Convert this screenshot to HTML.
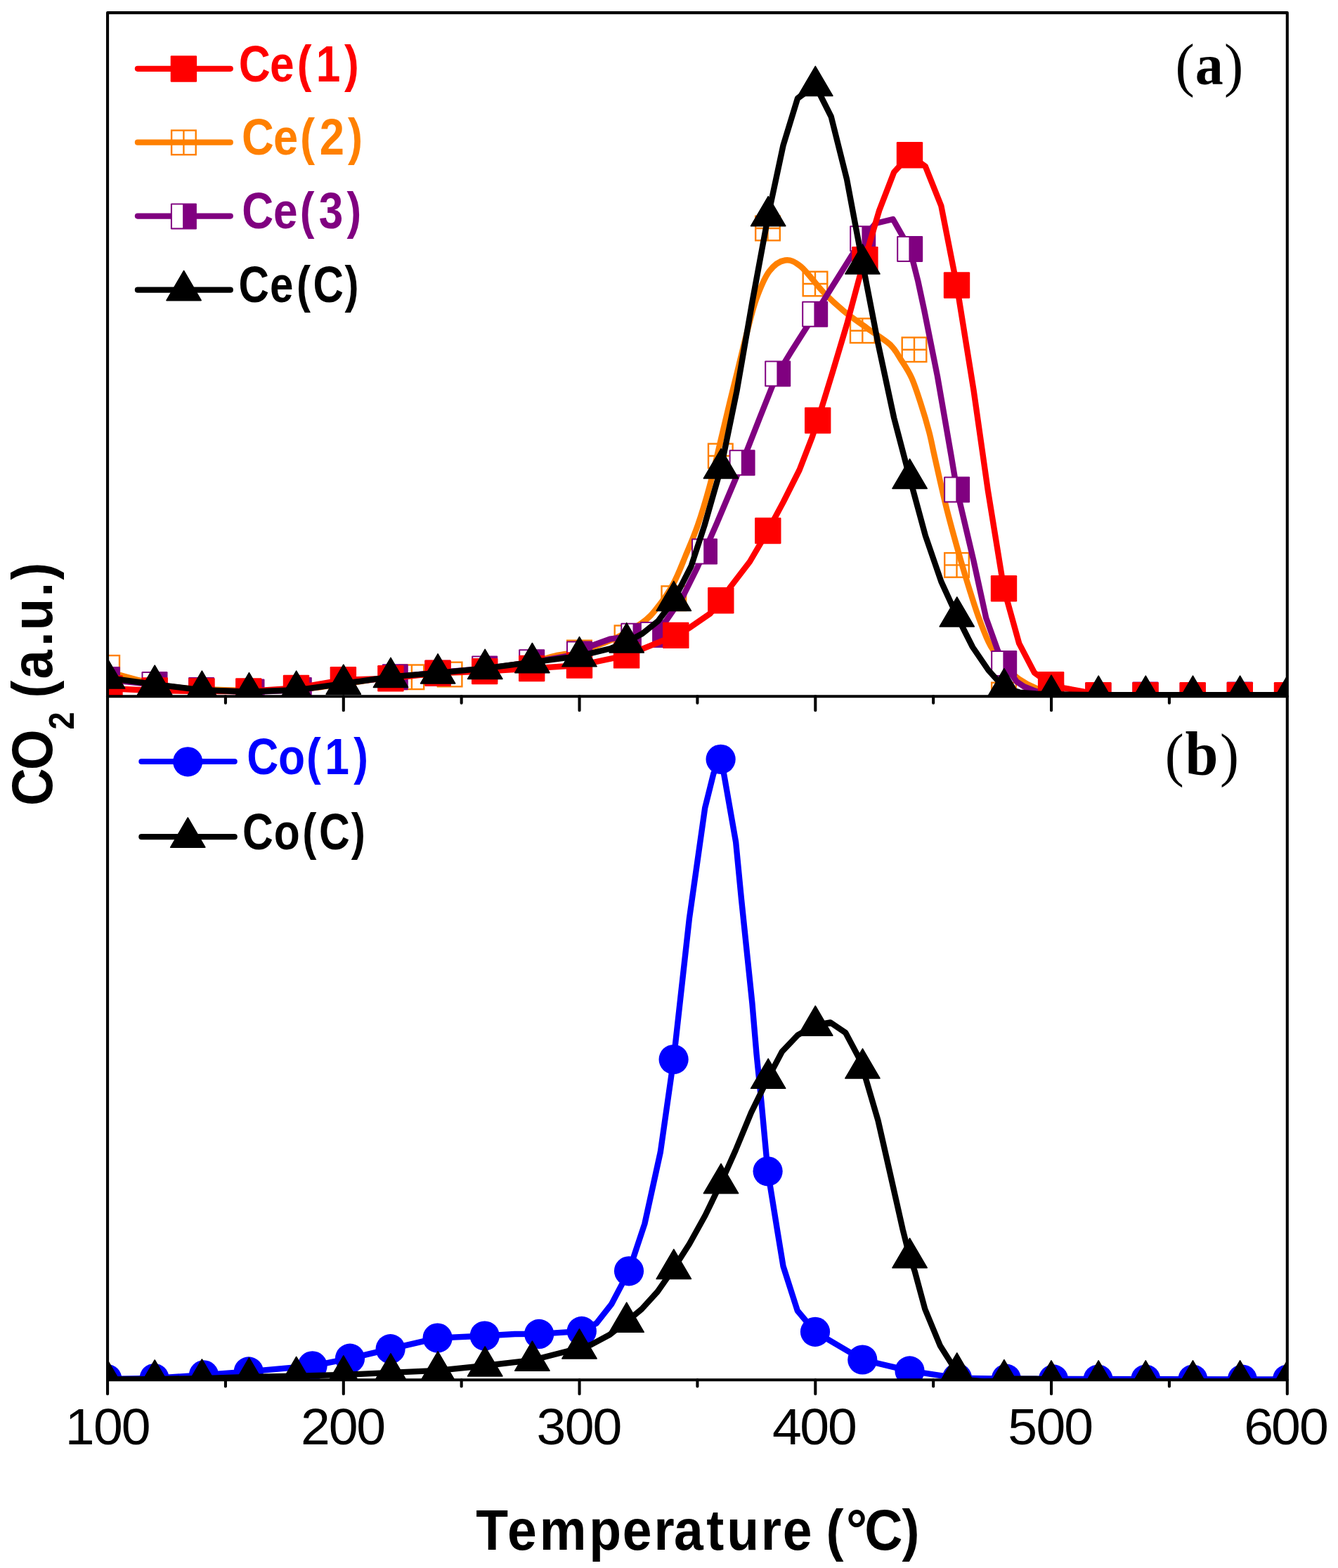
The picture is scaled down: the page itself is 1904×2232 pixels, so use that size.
<!DOCTYPE html>
<html lang="en"><head><meta charset="utf-8"><title>CO2 (a.u.) vs Temperature</title>
<style>
html,body{margin:0;padding:0;background:#fff;}
body{width:1904px;height:2232px;overflow:hidden;}
svg{display:block;}
text{font-family:"Liberation Sans",sans-serif;}
.b{font-weight:bold;}
.s{font-family:"Liberation Serif",serif;}
</style></head><body>
<svg width="1904" height="2232" viewBox="0 0 1904 2232">
<rect width="1904" height="2232" fill="#fff"/>
<defs>
<clipPath id="ca"><rect x="153.05" y="18.1" width="1678.75" height="973.10"/></clipPath>
<clipPath id="cb"><rect x="153.05" y="991.2" width="1678.75" height="973.10"/></clipPath>
</defs>
<g clip-path="url(#ca)">
<path d="M153.0,955.0 C156.0,956.0 163.0,958.7 171.0,961.0 C179.0,963.3 189.5,966.3 201.0,969.0 C212.5,971.7 225.7,975.0 240.0,977.0 C254.3,979.0 268.0,980.0 287.0,981.0 C306.0,982.0 331.5,982.8 354.0,983.0 C376.5,983.2 399.5,983.6 422.0,982.0 C444.5,980.4 466.7,976.5 489.0,973.5 C511.3,970.5 533.7,966.5 556.0,964.0 C578.3,961.5 600.7,960.5 623.0,958.5 C645.3,956.5 667.7,954.8 690.0,952.0 C712.3,949.2 740.3,945.1 757.0,942.0 C773.7,938.9 778.8,936.0 790.0,933.5 C801.2,931.0 810.7,930.8 824.0,927.0 C837.3,923.2 855.1,917.7 870.0,911.0 C884.9,904.3 902.1,894.8 913.1,887.0 C924.1,879.2 928.2,873.8 935.7,864.4 C943.2,855.0 951.8,842.6 958.4,830.5 C965.0,818.4 969.5,805.8 975.2,792.0 C980.9,778.2 987.0,764.6 992.8,748.0 C998.5,731.4 1004.2,712.5 1009.7,692.3 C1015.2,672.1 1020.8,646.7 1025.6,626.7 C1030.4,606.7 1034.6,588.5 1038.5,572.4 C1042.4,556.3 1044.9,546.6 1049.0,530.0 C1053.1,513.4 1058.4,490.5 1063.0,473.0 C1067.6,455.5 1071.2,439.2 1076.5,424.8 C1081.8,410.4 1087.8,395.4 1094.6,386.3 C1101.4,377.2 1109.7,371.6 1117.2,370.5 C1124.7,369.4 1130.8,372.0 1139.8,379.5 C1148.8,387.0 1161.3,405.1 1171.5,415.7 C1181.7,426.3 1190.5,434.3 1201.0,443.0 C1211.5,451.7 1223.9,459.9 1234.8,467.8 C1245.7,475.7 1258.7,483.2 1266.5,490.4 C1274.3,497.6 1276.3,503.0 1281.4,510.9 C1286.5,518.8 1292.4,527.1 1297.3,538.0 C1302.2,548.9 1306.8,563.7 1310.9,576.5 C1315.1,589.3 1319.0,602.8 1322.2,615.0 C1325.4,627.2 1325.9,631.9 1330.0,650.0 C1334.1,668.1 1340.8,699.0 1347.0,723.7 C1353.2,748.4 1361.7,778.4 1367.4,798.4 C1373.1,818.4 1376.9,830.5 1381.0,843.6 C1385.1,856.7 1387.7,865.2 1392.0,877.0 C1396.3,888.8 1402.8,905.5 1406.8,914.1 C1410.8,922.7 1411.6,922.6 1415.8,928.6 C1420.0,934.6 1426.3,943.7 1432.0,950.0 C1437.7,956.3 1443.2,961.7 1450.2,966.6 C1457.2,971.5 1465.5,975.9 1473.8,979.3 C1482.1,982.7 1485.6,985.1 1500.0,987.0 C1514.4,988.9 1504.7,989.9 1560.0,990.5 C1615.3,991.1 1786.7,990.5 1832.0,990.5" fill="none" stroke="#FF8000" stroke-width="8.4" stroke-linejoin="round" stroke-linecap="round"/>
<g fill="none" stroke="#FF8000" stroke-width="2.4"><rect x="135.4" y="933.1" width="34.6" height="34.6"/><path d="M152.7,933.1V967.7M135.4,950.4H170.0"/></g>
<g fill="none" stroke="#FF8000" stroke-width="2.4"><rect x="568.6" y="946.5" width="34.6" height="34.6"/><path d="M585.9,946.5V981.1M568.6,963.8H603.2"/></g>
<g fill="none" stroke="#FF8000" stroke-width="2.4"><rect x="622.8" y="942.7" width="34.6" height="34.6"/><path d="M640.1,942.7V977.3M622.8,960.0H657.4"/></g>
<g fill="none" stroke="#FF8000" stroke-width="2.4"><rect x="807.2" y="911.7" width="34.6" height="34.6"/><path d="M824.5,911.7V946.3M807.2,929.0H841.8"/></g>
<g fill="none" stroke="#FF8000" stroke-width="2.4"><rect x="874.7" y="890.5" width="34.6" height="34.6"/><path d="M892.0,890.5V925.1M874.7,907.8H909.3"/></g>
<g fill="none" stroke="#FF8000" stroke-width="2.4"><rect x="941.5" y="834.4" width="34.6" height="34.6"/><path d="M958.8,834.4V869.0M941.5,851.7H976.1"/></g>
<g fill="none" stroke="#FF8000" stroke-width="2.4"><rect x="1008.0" y="631.7" width="34.6" height="34.6"/><path d="M1025.3,631.7V666.3M1008.0,649.0H1042.6"/></g>
<g fill="none" stroke="#FF8000" stroke-width="2.4"><rect x="1075.2" y="307.7" width="34.6" height="34.6"/><path d="M1092.5,307.7V342.3M1075.2,325.0H1109.8"/></g>
<g fill="none" stroke="#FF8000" stroke-width="2.4"><rect x="1142.7" y="386.7" width="34.6" height="34.6"/><path d="M1160.0,386.7V421.3M1142.7,404.0H1177.3"/></g>
<g fill="none" stroke="#FF8000" stroke-width="2.4"><rect x="1210.0" y="453.4" width="34.6" height="34.6"/><path d="M1227.3,453.4V488.0M1210.0,470.7H1244.6"/></g>
<g fill="none" stroke="#FF8000" stroke-width="2.4"><rect x="1283.7" y="480.4" width="34.6" height="34.6"/><path d="M1301.0,480.4V515.0M1283.7,497.7H1318.3"/></g>
<g fill="none" stroke="#FF8000" stroke-width="2.4"><rect x="1344.2" y="787.1" width="34.6" height="34.6"/><path d="M1361.5,787.1V821.7M1344.2,804.4H1378.8"/></g>
<g fill="none" stroke="#FF8000" stroke-width="2.4"><rect x="1411.2" y="971.7" width="34.6" height="34.6"/><path d="M1428.5,971.7V1006.3M1411.2,989.0H1445.8"/></g>
<polyline points="152.5,967.4 220.0,974.5 286.6,982.6 358.0,985.0 425.3,982.4 490.0,972.0 562.3,963.7 625.0,957.0 689.7,951.9 756.7,942.7 824.5,931.0 843.0,918.7 867.9,909.7 901.8,905.2 929.4,896.0 947.0,884.8 972.0,848.6 992.3,807.9 1002.5,785.0 1020.0,745.0 1047.0,681.0 1056.1,658.7 1081.0,595.0 1099.0,549.8 1106.7,531.9 1126.2,500.0 1159.7,447.2 1212.0,363.7 1227.7,339.7 1246.0,318.0 1270.7,312.0 1294.7,354.4 1306.3,400.0 1315.0,440.7 1334.0,535.7 1353.8,650.0 1361.6,696.9 1385.5,798.4 1403.2,879.7 1419.5,925.0 1428.7,944.5 1446.6,970.2 1457.5,977.5 1473.8,983.8 1495.0,988.8 1530.0,990.5 1832.0,990.5" fill="none" stroke="#800080" stroke-width="8.4" stroke-linejoin="round" stroke-linecap="round"/>
<rect x="134.0" y="948.9" width="37.0" height="37.0" rx="1.2" fill="#800080"/><rect x="136.0" y="950.9" width="15.2" height="33.0" fill="#fff"/>
<rect x="201.5" y="956.0" width="37.0" height="37.0" rx="1.2" fill="#800080"/><rect x="203.5" y="958.0" width="15.2" height="33.0" fill="#fff"/>
<rect x="268.1" y="964.1" width="37.0" height="37.0" rx="1.2" fill="#800080"/><rect x="270.1" y="966.1" width="15.2" height="33.0" fill="#fff"/>
<rect x="339.5" y="966.5" width="37.0" height="37.0" rx="1.2" fill="#800080"/><rect x="341.5" y="968.5" width="15.2" height="33.0" fill="#fff"/>
<rect x="406.8" y="963.9" width="37.0" height="37.0" rx="1.2" fill="#800080"/><rect x="408.8" y="965.9" width="15.2" height="33.0" fill="#fff"/>
<rect x="469.9" y="949.5" width="37.0" height="37.0" rx="1.2" fill="#800080"/><rect x="471.9" y="951.5" width="15.2" height="33.0" fill="#fff"/>
<rect x="543.8" y="945.2" width="37.0" height="37.0" rx="1.2" fill="#800080"/><rect x="545.8" y="947.2" width="15.2" height="33.0" fill="#fff"/>
<rect x="604.5" y="939.8" width="37.0" height="37.0" rx="1.2" fill="#800080"/><rect x="606.5" y="941.8" width="15.2" height="33.0" fill="#fff"/>
<rect x="671.2" y="933.4" width="37.0" height="37.0" rx="1.2" fill="#800080"/><rect x="673.2" y="935.4" width="15.2" height="33.0" fill="#fff"/>
<rect x="738.2" y="924.2" width="37.0" height="37.0" rx="1.2" fill="#800080"/><rect x="740.2" y="926.2" width="15.2" height="33.0" fill="#fff"/>
<rect x="806.0" y="912.5" width="37.0" height="37.0" rx="1.2" fill="#800080"/><rect x="808.0" y="914.5" width="15.2" height="33.0" fill="#fff"/>
<rect x="883.3" y="886.7" width="37.0" height="37.0" rx="1.2" fill="#800080"/><rect x="885.3" y="888.7" width="15.2" height="33.0" fill="#fff"/>
<rect x="910.9" y="884.9" width="37.0" height="37.0" rx="1.2" fill="#800080"/><rect x="912.9" y="886.9" width="15.2" height="33.0" fill="#fff"/>
<rect x="984.0" y="766.5" width="37.0" height="37.0" rx="1.2" fill="#800080"/><rect x="986.0" y="768.5" width="15.2" height="33.0" fill="#fff"/>
<rect x="1037.6" y="640.2" width="37.0" height="37.0" rx="1.2" fill="#800080"/><rect x="1039.6" y="642.2" width="15.2" height="33.0" fill="#fff"/>
<rect x="1088.2" y="513.4" width="37.0" height="37.0" rx="1.2" fill="#800080"/><rect x="1090.2" y="515.4" width="15.2" height="33.0" fill="#fff"/>
<rect x="1141.2" y="428.7" width="37.0" height="37.0" rx="1.2" fill="#800080"/><rect x="1143.2" y="430.7" width="15.2" height="33.0" fill="#fff"/>
<rect x="1209.2" y="321.2" width="37.0" height="37.0" rx="1.2" fill="#800080"/><rect x="1211.2" y="323.2" width="15.2" height="33.0" fill="#fff"/>
<rect x="1276.2" y="335.9" width="37.0" height="37.0" rx="1.2" fill="#800080"/><rect x="1278.2" y="337.9" width="15.2" height="33.0" fill="#fff"/>
<rect x="1343.1" y="678.4" width="37.0" height="37.0" rx="1.2" fill="#800080"/><rect x="1345.1" y="680.4" width="15.2" height="33.0" fill="#fff"/>
<rect x="1410.2" y="926.0" width="37.0" height="37.0" rx="1.2" fill="#800080"/><rect x="1412.2" y="928.0" width="15.2" height="33.0" fill="#fff"/>
<rect x="1477.2" y="971.7" width="37.0" height="37.0" rx="1.2" fill="#800080"/><rect x="1479.2" y="973.7" width="15.2" height="33.0" fill="#fff"/>
<rect x="1544.4" y="971.7" width="37.0" height="37.0" rx="1.2" fill="#800080"/><rect x="1546.4" y="973.7" width="15.2" height="33.0" fill="#fff"/>
<rect x="1611.5" y="970.4" width="37.0" height="37.0" rx="1.2" fill="#800080"/><rect x="1613.5" y="972.4" width="15.2" height="33.0" fill="#fff"/>
<rect x="1678.7" y="971.7" width="37.0" height="37.0" rx="1.2" fill="#800080"/><rect x="1680.7" y="973.7" width="15.2" height="33.0" fill="#fff"/>
<rect x="1745.8" y="970.4" width="37.0" height="37.0" rx="1.2" fill="#800080"/><rect x="1747.8" y="972.4" width="15.2" height="33.0" fill="#fff"/>
<rect x="1813.0" y="971.7" width="37.0" height="37.0" rx="1.2" fill="#800080"/><rect x="1815.0" y="973.7" width="15.2" height="33.0" fill="#fff"/>
<polyline points="153.0,980.0 220.2,983.0 287.0,984.0 353.8,984.0 421.5,979.4 488.4,967.8 555.9,965.7 623.0,958.1 689.7,955.6 756.7,951.5 824.5,947.0 891.6,932.9 961.8,904.4 981.0,893.8 1010.4,873.5 1025.8,854.8 1039.8,835.0 1067.0,799.5 1092.8,755.5 1115.0,714.0 1137.6,669.0 1155.7,622.2 1163.7,598.5 1185.0,529.0 1205.0,462.0 1223.5,393.0 1251.2,299.5 1272.2,245.0 1294.5,220.8 1316.9,237.0 1339.3,293.0 1361.5,406.0 1385.6,556.0 1405.8,698.0 1428.5,837.8 1450.2,915.9 1472.0,957.6 1495.6,974.7 1514.0,979.3 1542.5,984.7 1562.5,989.7 1832.0,989.7" fill="none" stroke="#FF0000" stroke-width="8.4" stroke-linejoin="round" stroke-linecap="round"/>
<rect x="137.3" y="961.3" width="37.4" height="37.4" rx="1.2" fill="#FF0000"/>
<rect x="201.5" y="964.3" width="37.4" height="37.4" rx="1.2" fill="#FF0000"/>
<rect x="268.3" y="965.3" width="37.4" height="37.4" rx="1.2" fill="#FF0000"/>
<rect x="335.1" y="965.3" width="37.4" height="37.4" rx="1.2" fill="#FF0000"/>
<rect x="402.8" y="960.7" width="37.4" height="37.4" rx="1.2" fill="#FF0000"/>
<rect x="469.7" y="949.1" width="37.4" height="37.4" rx="1.2" fill="#FF0000"/>
<rect x="537.2" y="947.0" width="37.4" height="37.4" rx="1.2" fill="#FF0000"/>
<rect x="604.3" y="939.4" width="37.4" height="37.4" rx="1.2" fill="#FF0000"/>
<rect x="671.0" y="936.9" width="37.4" height="37.4" rx="1.2" fill="#FF0000"/>
<rect x="738.0" y="932.8" width="37.4" height="37.4" rx="1.2" fill="#FF0000"/>
<rect x="805.8" y="928.3" width="37.4" height="37.4" rx="1.2" fill="#FF0000"/>
<rect x="872.9" y="914.2" width="37.4" height="37.4" rx="1.2" fill="#FF0000"/>
<rect x="943.1" y="885.7" width="37.4" height="37.4" rx="1.2" fill="#FF0000"/>
<rect x="1007.1" y="836.1" width="37.4" height="37.4" rx="1.2" fill="#FF0000"/>
<rect x="1074.1" y="736.8" width="37.4" height="37.4" rx="1.2" fill="#FF0000"/>
<rect x="1145.0" y="579.8" width="37.4" height="37.4" rx="1.2" fill="#FF0000"/>
<rect x="1212.2" y="351.1" width="37.4" height="37.4" rx="1.2" fill="#FF0000"/>
<rect x="1275.8" y="202.1" width="37.4" height="37.4" rx="1.2" fill="#FF0000"/>
<rect x="1342.8" y="387.3" width="37.4" height="37.4" rx="1.2" fill="#FF0000"/>
<rect x="1409.8" y="819.1" width="37.4" height="37.4" rx="1.2" fill="#FF0000"/>
<rect x="1476.9" y="956.0" width="37.4" height="37.4" rx="1.2" fill="#FF0000"/>
<rect x="1544.2" y="971.0" width="37.4" height="37.4" rx="1.2" fill="#FF0000"/>
<rect x="1611.3" y="971.0" width="37.4" height="37.4" rx="1.2" fill="#FF0000"/>
<rect x="1678.5" y="971.0" width="37.4" height="37.4" rx="1.2" fill="#FF0000"/>
<rect x="1745.6" y="971.0" width="37.4" height="37.4" rx="1.2" fill="#FF0000"/>
<rect x="1812.8" y="971.0" width="37.4" height="37.4" rx="1.2" fill="#FF0000"/>
<polyline points="153.1,965.0 220.2,974.2 287.4,982.3 354.5,984.8 421.7,982.3 488.8,973.2 556.0,963.4 623.1,957.9 690.2,951.4 757.4,942.6 824.5,933.8 869.3,923.0 891.7,913.9 914.0,902.0 936.5,884.0 958.8,854.4 983.5,806.0 1002.5,748.0 1026.0,666.0 1048.4,557.0 1070.8,428.0 1093.2,306.7 1114.5,207.0 1135.0,140.0 1160.3,121.5 1182.7,166.0 1205.0,255.0 1227.5,375.0 1249.8,490.5 1272.2,595.0 1294.6,680.4 1317.0,763.0 1339.4,828.0 1361.8,877.0 1384.0,921.0 1406.5,954.0 1428.9,978.7 1451.0,985.6 1474.0,987.4 1496.0,988.3 1563.2,989.3 1831.8,989.3" fill="none" stroke="#000000" stroke-width="8.4" stroke-linejoin="round" stroke-linecap="round"/>
<polygon points="153.1,937.9 128.5,980.0 177.7,980.0" fill="#000000" stroke="#000000" stroke-width="1.6" stroke-linejoin="round"/>
<polygon points="220.2,947.1 195.6,989.2 244.8,989.2" fill="#000000" stroke="#000000" stroke-width="1.6" stroke-linejoin="round"/>
<polygon points="287.4,955.2 262.8,997.3 312.0,997.3" fill="#000000" stroke="#000000" stroke-width="1.6" stroke-linejoin="round"/>
<polygon points="354.5,957.7 329.9,999.8 379.1,999.8" fill="#000000" stroke="#000000" stroke-width="1.6" stroke-linejoin="round"/>
<polygon points="421.7,955.2 397.1,997.3 446.3,997.3" fill="#000000" stroke="#000000" stroke-width="1.6" stroke-linejoin="round"/>
<polygon points="488.8,946.1 464.2,988.2 513.4,988.2" fill="#000000" stroke="#000000" stroke-width="1.6" stroke-linejoin="round"/>
<polygon points="556.0,936.3 531.4,978.4 580.6,978.4" fill="#000000" stroke="#000000" stroke-width="1.6" stroke-linejoin="round"/>
<polygon points="623.1,930.8 598.5,972.9 647.7,972.9" fill="#000000" stroke="#000000" stroke-width="1.6" stroke-linejoin="round"/>
<polygon points="690.2,924.3 665.6,966.4 714.9,966.4" fill="#000000" stroke="#000000" stroke-width="1.6" stroke-linejoin="round"/>
<polygon points="757.4,915.5 732.8,957.6 782.0,957.6" fill="#000000" stroke="#000000" stroke-width="1.6" stroke-linejoin="round"/>
<polygon points="824.5,906.7 799.9,948.8 849.1,948.8" fill="#000000" stroke="#000000" stroke-width="1.6" stroke-linejoin="round"/>
<polygon points="891.7,886.8 867.1,928.9 916.3,928.9" fill="#000000" stroke="#000000" stroke-width="1.6" stroke-linejoin="round"/>
<polygon points="958.8,827.3 934.2,869.4 983.4,869.4" fill="#000000" stroke="#000000" stroke-width="1.6" stroke-linejoin="round"/>
<polygon points="1026.0,638.9 1001.4,681.0 1050.6,681.0" fill="#000000" stroke="#000000" stroke-width="1.6" stroke-linejoin="round"/>
<polygon points="1093.2,279.6 1068.6,321.7 1117.8,321.7" fill="#000000" stroke="#000000" stroke-width="1.6" stroke-linejoin="round"/>
<polygon points="1160.3,94.4 1135.7,136.5 1184.9,136.5" fill="#000000" stroke="#000000" stroke-width="1.6" stroke-linejoin="round"/>
<polygon points="1227.5,347.9 1202.9,390.0 1252.0,390.0" fill="#000000" stroke="#000000" stroke-width="1.6" stroke-linejoin="round"/>
<polygon points="1294.6,653.3 1270.0,695.4 1319.2,695.4" fill="#000000" stroke="#000000" stroke-width="1.6" stroke-linejoin="round"/>
<polygon points="1361.8,849.9 1337.2,892.0 1386.3,892.0" fill="#000000" stroke="#000000" stroke-width="1.6" stroke-linejoin="round"/>
<polygon points="1428.9,951.6 1404.3,993.7 1453.5,993.7" fill="#000000" stroke="#000000" stroke-width="1.6" stroke-linejoin="round"/>
<polygon points="1496.0,961.2 1471.5,1003.3 1520.6,1003.3" fill="#000000" stroke="#000000" stroke-width="1.6" stroke-linejoin="round"/>
<polygon points="1563.2,962.2 1538.6,1004.3 1587.8,1004.3" fill="#000000" stroke="#000000" stroke-width="1.6" stroke-linejoin="round"/>
<polygon points="1630.3,962.2 1605.8,1004.3 1654.9,1004.3" fill="#000000" stroke="#000000" stroke-width="1.6" stroke-linejoin="round"/>
<polygon points="1697.5,962.2 1672.9,1004.3 1722.1,1004.3" fill="#000000" stroke="#000000" stroke-width="1.6" stroke-linejoin="round"/>
<polygon points="1764.6,962.2 1740.0,1004.3 1789.2,1004.3" fill="#000000" stroke="#000000" stroke-width="1.6" stroke-linejoin="round"/>
<polygon points="1831.8,962.2 1807.2,1004.3 1856.4,1004.3" fill="#000000" stroke="#000000" stroke-width="1.6" stroke-linejoin="round"/>
</g>
<g clip-path="url(#cb)">
<polyline points="152.4,1963.0 219.6,1962.0 290.0,1957.3 353.8,1952.4 444.6,1944.3 498.0,1933.7 555.6,1920.2 622.6,1904.6 689.7,1901.5 732.5,1899.0 767.2,1898.9 827.8,1894.9 848.6,1883.8 870.0,1856.7 895.0,1809.3 917.4,1742.0 939.8,1640.0 958.6,1508.0 980.9,1307.5 1003.2,1150.0 1015.4,1101.0 1025.6,1080.8 1030.0,1101.0 1047.1,1198.4 1055.0,1280.0 1070.4,1428.0 1076.5,1500.0 1083.4,1567.9 1092.6,1667.3 1105.9,1750.0 1114.5,1802.4 1134.8,1865.7 1160.0,1895.8 1227.3,1935.5 1294.5,1951.4 1362.0,1961.6 1431.9,1962.7 1832.0,1963.5" fill="none" stroke="#0000FF" stroke-width="8.4" stroke-linejoin="round" stroke-linecap="round"/>
<circle cx="152.4" cy="1963.0" r="21.1" fill="#0000FF"/>
<circle cx="219.6" cy="1962.0" r="21.1" fill="#0000FF"/>
<circle cx="290.0" cy="1957.3" r="21.1" fill="#0000FF"/>
<circle cx="353.8" cy="1952.4" r="21.1" fill="#0000FF"/>
<circle cx="444.6" cy="1944.3" r="21.1" fill="#0000FF"/>
<circle cx="498.0" cy="1933.7" r="21.1" fill="#0000FF"/>
<circle cx="555.6" cy="1920.2" r="21.1" fill="#0000FF"/>
<circle cx="622.6" cy="1904.6" r="21.1" fill="#0000FF"/>
<circle cx="689.7" cy="1901.5" r="21.1" fill="#0000FF"/>
<circle cx="767.2" cy="1898.9" r="21.1" fill="#0000FF"/>
<circle cx="827.8" cy="1894.9" r="21.1" fill="#0000FF"/>
<circle cx="895.0" cy="1809.3" r="21.1" fill="#0000FF"/>
<circle cx="958.6" cy="1508.0" r="21.1" fill="#0000FF"/>
<circle cx="1025.6" cy="1080.8" r="21.1" fill="#0000FF"/>
<circle cx="1092.6" cy="1667.3" r="21.1" fill="#0000FF"/>
<circle cx="1160.0" cy="1895.8" r="21.1" fill="#0000FF"/>
<circle cx="1227.3" cy="1935.5" r="21.1" fill="#0000FF"/>
<circle cx="1294.5" cy="1951.4" r="21.1" fill="#0000FF"/>
<circle cx="1362.0" cy="1961.6" r="21.1" fill="#0000FF"/>
<circle cx="1431.9" cy="1962.7" r="21.1" fill="#0000FF"/>
<circle cx="1499.0" cy="1963.4" r="21.1" fill="#0000FF"/>
<circle cx="1562.6" cy="1963.5" r="21.1" fill="#0000FF"/>
<circle cx="1630.3" cy="1963.5" r="21.1" fill="#0000FF"/>
<circle cx="1697.4" cy="1963.5" r="21.1" fill="#0000FF"/>
<circle cx="1767.8" cy="1963.5" r="21.1" fill="#0000FF"/>
<circle cx="1832.0" cy="1963.5" r="21.1" fill="#0000FF"/>
<polyline points="153.1,1963.5 220.2,1963.1 287.4,1962.1 354.5,1960.0 421.7,1958.6 488.8,1957.0 556.0,1953.9 623.1,1950.9 690.2,1944.0 757.4,1936.2 824.5,1919.0 840.7,1914.4 867.9,1899.7 891.7,1881.3 913.1,1863.5 935.7,1838.6 958.8,1805.5 981.0,1770.7 1003.6,1730.0 1026.0,1683.7 1046.5,1638.0 1069.0,1583.7 1093.2,1534.3 1112.7,1497.2 1135.3,1473.4 1160.3,1459.1 1181.7,1455.5 1203.2,1470.0 1221.3,1504.0 1227.5,1520.0 1249.5,1595.0 1266.5,1669.7 1284.6,1750.0 1294.6,1789.7 1301.6,1809.2 1316.3,1863.5 1337.8,1915.5 1353.6,1940.4 1361.8,1953.0 1378.0,1964.5 1400.0,1966.5 1415.0,1966.0 1428.9,1962.8 1451.0,1962.6 1474.0,1962.8 1496.0,1963.9 1512.0,1966.5 1831.8,1966.5" fill="none" stroke="#000000" stroke-width="8.4" stroke-linejoin="round" stroke-linecap="round"/>
<polygon points="153.1,1936.4 128.5,1978.5 177.7,1978.5" fill="#000000" stroke="#000000" stroke-width="1.6" stroke-linejoin="round"/>
<polygon points="220.2,1936.0 195.6,1978.1 244.8,1978.1" fill="#000000" stroke="#000000" stroke-width="1.6" stroke-linejoin="round"/>
<polygon points="287.4,1935.0 262.8,1977.1 312.0,1977.1" fill="#000000" stroke="#000000" stroke-width="1.6" stroke-linejoin="round"/>
<polygon points="354.5,1932.9 329.9,1975.0 379.1,1975.0" fill="#000000" stroke="#000000" stroke-width="1.6" stroke-linejoin="round"/>
<polygon points="421.7,1931.5 397.1,1973.6 446.3,1973.6" fill="#000000" stroke="#000000" stroke-width="1.6" stroke-linejoin="round"/>
<polygon points="488.8,1929.9 464.2,1972.0 513.4,1972.0" fill="#000000" stroke="#000000" stroke-width="1.6" stroke-linejoin="round"/>
<polygon points="556.0,1926.8 531.4,1968.9 580.6,1968.9" fill="#000000" stroke="#000000" stroke-width="1.6" stroke-linejoin="round"/>
<polygon points="623.1,1923.8 598.5,1965.9 647.7,1965.9" fill="#000000" stroke="#000000" stroke-width="1.6" stroke-linejoin="round"/>
<polygon points="690.2,1916.9 665.6,1959.0 714.9,1959.0" fill="#000000" stroke="#000000" stroke-width="1.6" stroke-linejoin="round"/>
<polygon points="757.4,1909.1 732.8,1951.2 782.0,1951.2" fill="#000000" stroke="#000000" stroke-width="1.6" stroke-linejoin="round"/>
<polygon points="824.5,1891.9 799.9,1934.0 849.1,1934.0" fill="#000000" stroke="#000000" stroke-width="1.6" stroke-linejoin="round"/>
<polygon points="891.7,1854.2 867.1,1896.3 916.3,1896.3" fill="#000000" stroke="#000000" stroke-width="1.6" stroke-linejoin="round"/>
<polygon points="958.8,1778.4 934.2,1820.5 983.4,1820.5" fill="#000000" stroke="#000000" stroke-width="1.6" stroke-linejoin="round"/>
<polygon points="1026.0,1656.6 1001.4,1698.7 1050.6,1698.7" fill="#000000" stroke="#000000" stroke-width="1.6" stroke-linejoin="round"/>
<polygon points="1093.2,1507.2 1068.6,1549.3 1117.8,1549.3" fill="#000000" stroke="#000000" stroke-width="1.6" stroke-linejoin="round"/>
<polygon points="1160.3,1432.0 1135.7,1474.1 1184.9,1474.1" fill="#000000" stroke="#000000" stroke-width="1.6" stroke-linejoin="round"/>
<polygon points="1227.5,1492.9 1202.9,1535.0 1252.0,1535.0" fill="#000000" stroke="#000000" stroke-width="1.6" stroke-linejoin="round"/>
<polygon points="1294.6,1762.6 1270.0,1804.7 1319.2,1804.7" fill="#000000" stroke="#000000" stroke-width="1.6" stroke-linejoin="round"/>
<polygon points="1361.8,1925.9 1337.2,1968.0 1386.3,1968.0" fill="#000000" stroke="#000000" stroke-width="1.6" stroke-linejoin="round"/>
<polygon points="1428.9,1935.7 1404.3,1977.8 1453.5,1977.8" fill="#000000" stroke="#000000" stroke-width="1.6" stroke-linejoin="round"/>
<polygon points="1496.0,1936.8 1471.5,1978.9 1520.6,1978.9" fill="#000000" stroke="#000000" stroke-width="1.6" stroke-linejoin="round"/>
<polygon points="1563.2,1936.8 1538.6,1978.9 1587.8,1978.9" fill="#000000" stroke="#000000" stroke-width="1.6" stroke-linejoin="round"/>
<polygon points="1630.3,1936.8 1605.8,1978.9 1654.9,1978.9" fill="#000000" stroke="#000000" stroke-width="1.6" stroke-linejoin="round"/>
<polygon points="1697.5,1936.8 1672.9,1978.9 1722.1,1978.9" fill="#000000" stroke="#000000" stroke-width="1.6" stroke-linejoin="round"/>
<polygon points="1764.6,1936.8 1740.0,1978.9 1789.2,1978.9" fill="#000000" stroke="#000000" stroke-width="1.6" stroke-linejoin="round"/>
<polygon points="1831.8,1936.8 1807.2,1978.9 1856.4,1978.9" fill="#000000" stroke="#000000" stroke-width="1.6" stroke-linejoin="round"/>
</g>
<g fill="none" stroke="#000" stroke-width="4.1" stroke-linecap="round" stroke-linejoin="round">
<rect x="153.05" y="18.1" width="1678.75" height="1946.20"/>
<path d="M153.05,991.2H1831.80"/>
<path d="M320.93,991.2v9.5M488.80,991.2v20M656.67,991.2v9.5M824.55,991.2v20M992.42,991.2v9.5M1160.30,991.2v20M1328.17,991.2v9.5M1496.05,991.2v20M1663.92,991.2v9.5M153.05,1964.3v20M320.93,1964.3v9.2M488.80,1964.3v20M656.67,1964.3v9.2M824.55,1964.3v20M992.42,1964.3v9.2M1160.30,1964.3v20M1328.17,1964.3v9.2M1496.05,1964.3v20M1663.92,1964.3v9.2M1831.80,1964.3v20"/>
</g>
<path d="M195.9,97.8H327.8" stroke="#FF0000" stroke-width="8.2" stroke-linecap="round" fill="none"/>
<rect x="242.7" y="79.3" width="37.4" height="37.4" rx="1.2" fill="#FF0000"/>
<path d="M195.9,202.7H327.8" stroke="#FF8000" stroke-width="8.2" stroke-linecap="round" fill="none"/>
<g fill="none" stroke="#FF8000" stroke-width="2.4"><rect x="244.1" y="185.6" width="34.6" height="34.6"/><path d="M261.4,185.6V220.2M244.1,202.9H278.7"/></g>
<path d="M195.9,307.6H327.8" stroke="#800080" stroke-width="8.2" stroke-linecap="round" fill="none"/>
<rect x="242.9" y="289.4" width="37.0" height="37.0" rx="1.2" fill="#800080"/><rect x="244.9" y="291.4" width="15.2" height="33.0" fill="#fff"/>
<path d="M195.9,412.7H327.8" stroke="#000000" stroke-width="8.2" stroke-linecap="round" fill="none"/>
<polygon points="261.6,385.5 237.0,427.6 286.2,427.6" fill="#000000" stroke="#000000" stroke-width="1.6" stroke-linejoin="round"/>
<path d="M201.4,1084.0H333.7" stroke="#0000FF" stroke-width="8.2" stroke-linecap="round" fill="none"/>
<circle cx="267.2" cy="1084.3" r="21.1" fill="#0000FF"/>
<path d="M201.4,1191.2H333.7" stroke="#000000" stroke-width="8.2" stroke-linecap="round" fill="none"/>
<polygon points="267.3,1164.0 242.7,1206.1 291.9,1206.1" fill="#000000" stroke="#000000" stroke-width="1.6" stroke-linejoin="round"/>
<text class="b" transform="translate(0,115.7) scale(0.8702,1)" x="390.55 441.21 485.71 516.83 563.09" y="0" font-size="71.5" fill="#FF0000">Ce(1)</text>
<text class="b" transform="translate(0,220.1) scale(0.8849,1)" x="388.81 439.53 482.49 513.80 559.32" y="0" font-size="71.5" fill="#FF8000">Ce(2)</text>
<text class="b" transform="translate(0,325.2) scale(0.8691,1)" x="396.14 447.67 491.01 522.18 567.74" y="0" font-size="71.5" fill="#800080">Ce(3)</text>
<text class="b" transform="translate(0,430.1) scale(0.8409,1)" x="403.86 456.78 501.90 529.79 583.28" y="0" font-size="71.5" fill="#000000">Ce(C)</text>
<text class="b" transform="translate(0,1102.4) scale(0.8721,1)" x="402.71 454.02 499.99 530.11 577.09" y="0" font-size="71.5" fill="#0000FF">Co(1)</text>
<text class="b" transform="translate(0,1209.1) scale(0.8474,1)" x="407.21 460.06 507.78 535.72 589.63" y="0" font-size="71.5" fill="#000000">Co(C)</text>
<text class="s" transform="scale(0.96,1)" fill="#000"><tspan x="1742.22" y="120.9" font-size="85.3">(</tspan><tspan x="1771.69" y="119.6" font-size="83.3" font-weight="bold">a</tspan><tspan x="1814.58" y="120.9" font-size="85.3">)</tspan></text>
<text class="s" transform="scale(0.95,1)" fill="#000"><tspan x="1745.03" y="1102.8" font-size="85.3">(</tspan><tspan x="1775.17" y="1102.6" font-size="89" font-weight="bold">b</tspan><tspan x="1827.30" y="1102.8" font-size="85.3">)</tspan></text>
<text transform="translate(0,2055.6) scale(1.0500,1)" x="88.35 126.61 164.42" y="0" font-size="71.6" fill="#000">100</text>
<text transform="translate(0,2055.6) scale(1.0500,1)" x="407.52 445.38 483.18" y="0" font-size="71.6" fill="#000">200</text>
<text transform="translate(0,2055.6) scale(1.0500,1)" x="727.06 765.52 803.23" y="0" font-size="71.6" fill="#000">300</text>
<text transform="translate(0,2055.6) scale(1.0500,1)" x="1046.56 1083.99 1121.95" y="0" font-size="71.6" fill="#000">400</text>
<text transform="translate(0,2055.6) scale(1.0500,1)" x="1365.92 1404.33 1442.14" y="0" font-size="71.6" fill="#000">500</text>
<text transform="translate(0,2055.6) scale(1.0500,1)" x="1685.89 1722.80 1761.04" y="0" font-size="71.6" fill="#000">600</text>
<text class="b" transform="translate(0,2205.6) scale(0.9261,1)" x="731.23 779.53 829.15 905.17 956.30 1004.88 1035.45 1085.51 1116.74 1169.13 1202.61 1247.66 1269.42 1300.02 1328.40 1386.05" y="0" font-size="81" fill="#000">Temperature (°C)</text>
<g transform="translate(74.4,1150) rotate(-90) scale(0.9048,1)"><text class="b" font-size="82" fill="#000"><tspan x="3.43 59.66" y="0">CO</tspan><tspan x="123.34" y="30.6" font-size="50">2</tspan><tspan x="150.27 173.07 202.82 254.19 279.45 332.22 358.78" y="0"> (a.u.)</tspan></text></g>
</svg></body></html>
